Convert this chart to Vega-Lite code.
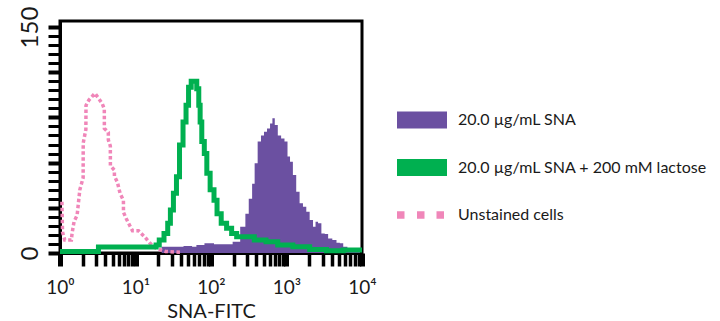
{
  "$schema": "https://vega.github.io/schema/vega-lite/v6.json",
  "width": 302,
  "height": 232,
  "autosize": {"type": "none"},
  "padding": {"left": 60, "top": 21, "right": 358, "bottom": 68},
  "background": "white",
  "config": {
    "view": {"stroke": "black", "strokeWidth": 3},
    "font": "Lato",
    "axis": {
      "grid": false,
      "domainColor": "black",
      "domainWidth": 3,
      "tickColor": "black",
      "labelColor": "#1a1a1a",
      "titleColor": "#1a1a1a",
      "labelFont": "Lato",
      "titleFont": "Lato",
      "labelOverlap": false,
      "labelFlush": false,
      "titleFontWeight": "normal"
    },
    "legend": {
      "orient": "none",
      "legendX": 337,
      "legendY": 74,
      "padding": 0,
      "symbolType": "M-1,-0.34H1V0.34H-1Z",
      "symbolSize": 2500,
      "symbolStrokeWidth": 0,
      "labelFont": "Lato",
      "labelFontSize": 16,
      "labelColor": "#1a1a1a",
      "labelOffset": 11,
      "rowPadding": 13.5,
      "labelLimit": 400
    }
  },
  "datasets": {
    "sna": [
      {"s": "20.0 µg/mL SNA", "x": 22.2, "y": 4.2},
      {"s": "20.0 µg/mL SNA", "x": 37.4, "y": 4.2},
      {"s": "20.0 µg/mL SNA", "x": 50, "y": 4.6},
      {"s": "20.0 µg/mL SNA", "x": 63.1, "y": 4.2},
      {"s": "20.0 µg/mL SNA", "x": 65.1, "y": 5.3},
      {"s": "20.0 µg/mL SNA", "x": 103, "y": 6.4},
      {"s": "20.0 µg/mL SNA", "x": 116.6, "y": 5.8},
      {"s": "20.0 µg/mL SNA", "x": 173.8, "y": 5.8},
      {"s": "20.0 µg/mL SNA", "x": 215.4, "y": 7.5},
      {"s": "20.0 µg/mL SNA", "x": 275.4, "y": 17.5},
      {"s": "20.0 µg/mL SNA", "x": 295.6, "y": 26},
      {"s": "20.0 µg/mL SNA", "x": 338.3, "y": 36},
      {"s": "20.0 µg/mL SNA", "x": 363, "y": 46},
      {"s": "20.0 µg/mL SNA", "x": 394.5, "y": 59.5},
      {"s": "20.0 µg/mL SNA", "x": 436.5, "y": 74},
      {"s": "20.0 µg/mL SNA", "x": 483, "y": 78},
      {"s": "20.0 µg/mL SNA", "x": 524.8, "y": 80.5},
      {"s": "20.0 µg/mL SNA", "x": 580.8, "y": 82.7},
      {"s": "20.0 µg/mL SNA", "x": 631, "y": 86},
      {"s": "20.0 µg/mL SNA", "x": 671, "y": 89.4},
      {"s": "20.0 µg/mL SNA", "x": 729, "y": 85},
      {"s": "20.0 µg/mL SNA", "x": 806.6, "y": 78},
      {"s": "20.0 µg/mL SNA", "x": 892.7, "y": 76},
      {"s": "20.0 µg/mL SNA", "x": 990.8, "y": 74},
      {"s": "20.0 µg/mL SNA", "x": 1073, "y": 64},
      {"s": "20.0 µg/mL SNA", "x": 1155, "y": 60.6},
      {"s": "20.0 µg/mL SNA", "x": 1278, "y": 51.8},
      {"s": "20.0 µg/mL SNA", "x": 1415, "y": 40.7},
      {"s": "20.0 µg/mL SNA", "x": 1570, "y": 33},
      {"s": "20.0 µg/mL SNA", "x": 1738, "y": 30.7},
      {"s": "20.0 µg/mL SNA", "x": 1923, "y": 27.4},
      {"s": "20.0 µg/mL SNA", "x": 2135, "y": 21.9},
      {"s": "20.0 µg/mL SNA", "x": 2362, "y": 17.5},
      {"s": "20.0 µg/mL SNA", "x": 2489, "y": 20.8},
      {"s": "20.0 µg/mL SNA", "x": 2754, "y": 19.7},
      {"s": "20.0 µg/mL SNA", "x": 3048, "y": 13},
      {"s": "20.0 µg/mL SNA", "x": 3383, "y": 12.6},
      {"s": "20.0 µg/mL SNA", "x": 3745, "y": 9.7},
      {"s": "20.0 µg/mL SNA", "x": 4365, "y": 8.6},
      {"s": "20.0 µg/mL SNA", "x": 4831, "y": 6.8},
      {"s": "20.0 µg/mL SNA", "x": 5362, "y": 6.4},
      {"s": "20.0 µg/mL SNA", "x": 5933, "y": 4.2},
      {"s": "20.0 µg/mL SNA", "x": 6918, "y": 2},
      {"s": "20.0 µg/mL SNA", "x": 9405, "y": 0.9}
    ],
    "unstained": [
      {"s": "Unstained cells", "x": 1.06, "y": 34},
      {"s": "Unstained cells", "x": 1.08, "y": 14},
      {"s": "Unstained cells", "x": 1.155, "y": 8.6},
      {"s": "Unstained cells", "x": 1.415, "y": 8.6},
      {"s": "Unstained cells", "x": 1.445, "y": 13},
      {"s": "Unstained cells", "x": 1.537, "y": 21},
      {"s": "Unstained cells", "x": 1.685, "y": 25},
      {"s": "Unstained cells", "x": 1.831, "y": 42},
      {"s": "Unstained cells", "x": 2.026, "y": 50},
      {"s": "Unstained cells", "x": 2.03, "y": 73},
      {"s": "Unstained cells", "x": 2.201, "y": 82},
      {"s": "Unstained cells", "x": 2.21, "y": 98},
      {"s": "Unstained cells", "x": 2.413, "y": 101.5},
      {"s": "Unstained cells", "x": 2.902, "y": 106},
      {"s": "Unstained cells", "x": 3.211, "y": 103},
      {"s": "Unstained cells", "x": 3.631, "y": 99},
      {"s": "Unstained cells", "x": 3.862, "y": 95.5},
      {"s": "Unstained cells", "x": 3.87, "y": 82.7},
      {"s": "Unstained cells", "x": 4.365, "y": 80},
      {"s": "Unstained cells", "x": 4.37, "y": 75},
      {"s": "Unstained cells", "x": 4.642, "y": 71},
      {"s": "Unstained cells", "x": 4.65, "y": 58},
      {"s": "Unstained cells", "x": 5.248, "y": 55},
      {"s": "Unstained cells", "x": 5.26, "y": 51},
      {"s": "Unstained cells", "x": 5.754, "y": 47},
      {"s": "Unstained cells", "x": 6.25, "y": 39.6},
      {"s": "Unstained cells", "x": 6.918, "y": 35},
      {"s": "Unstained cells", "x": 6.93, "y": 27},
      {"s": "Unstained cells", "x": 7.586, "y": 22.6},
      {"s": "Unstained cells", "x": 8.318, "y": 18.6},
      {"s": "Unstained cells", "x": 9.12, "y": 14.8},
      {"s": "Unstained cells", "x": 10.96, "y": 14.8},
      {"s": "Unstained cells", "x": 13.18, "y": 10.8},
      {"s": "Unstained cells", "x": 15.37, "y": 6.8},
      {"s": "Unstained cells", "x": 17.5, "y": 4},
      {"s": "Unstained cells", "x": 20, "y": 2.5},
      {"s": "Unstained cells", "x": 25, "y": 1},
      {"s": "Unstained cells", "x": 40, "y": 0.5}
    ],
    "lactose": [
      {"s": "20.0 µg/mL SNA + 200 mM lactose", "x": 1, "y": 1},
      {"s": "20.0 µg/mL SNA + 200 mM lactose", "x": 3.21, "y": 1},
      {"s": "20.0 µg/mL SNA + 200 mM lactose", "x": 3.25, "y": 4},
      {"s": "20.0 µg/mL SNA + 200 mM lactose", "x": 8.07, "y": 4},
      {"s": "20.0 µg/mL SNA + 200 mM lactose", "x": 18.5, "y": 4},
      {"s": "20.0 µg/mL SNA + 200 mM lactose", "x": 19, "y": 5.3},
      {"s": "20.0 µg/mL SNA + 200 mM lactose", "x": 22.4, "y": 8.6},
      {"s": "20.0 µg/mL SNA + 200 mM lactose", "x": 25.4, "y": 13},
      {"s": "20.0 µg/mL SNA + 200 mM lactose", "x": 28.1, "y": 19.7},
      {"s": "20.0 µg/mL SNA + 200 mM lactose", "x": 29.9, "y": 28.5},
      {"s": "20.0 µg/mL SNA + 200 mM lactose", "x": 33.8, "y": 39.6},
      {"s": "20.0 µg/mL SNA + 200 mM lactose", "x": 36, "y": 50.6},
      {"s": "20.0 µg/mL SNA + 200 mM lactose", "x": 40.7, "y": 71.7},
      {"s": "20.0 µg/mL SNA + 200 mM lactose", "x": 44.6, "y": 87},
      {"s": "20.0 µg/mL SNA + 200 mM lactose", "x": 48.9, "y": 98},
      {"s": "20.0 µg/mL SNA + 200 mM lactose", "x": 52, "y": 110},
      {"s": "20.0 µg/mL SNA + 200 mM lactose", "x": 57.5, "y": 114},
      {"s": "20.0 µg/mL SNA + 200 mM lactose", "x": 62.5, "y": 114},
      {"s": "20.0 µg/mL SNA + 200 mM lactose", "x": 67.1, "y": 109},
      {"s": "20.0 µg/mL SNA + 200 mM lactose", "x": 70.7, "y": 98},
      {"s": "20.0 µg/mL SNA + 200 mM lactose", "x": 72.9, "y": 87},
      {"s": "20.0 µg/mL SNA + 200 mM lactose", "x": 78.2, "y": 74},
      {"s": "20.0 µg/mL SNA + 200 mM lactose", "x": 85, "y": 66},
      {"s": "20.0 µg/mL SNA + 200 mM lactose", "x": 91.2, "y": 53},
      {"s": "20.0 µg/mL SNA + 200 mM lactose", "x": 104, "y": 42},
      {"s": "20.0 µg/mL SNA + 200 mM lactose", "x": 115.5, "y": 35},
      {"s": "20.0 µg/mL SNA + 200 mM lactose", "x": 125.1, "y": 26},
      {"s": "20.0 µg/mL SNA + 200 mM lactose", "x": 149, "y": 19.7},
      {"s": "20.0 µg/mL SNA + 200 mM lactose", "x": 173.8, "y": 16.4},
      {"s": "20.0 µg/mL SNA + 200 mM lactose", "x": 202.6, "y": 13},
      {"s": "20.0 µg/mL SNA + 200 mM lactose", "x": 236.3, "y": 10.8},
      {"s": "20.0 µg/mL SNA + 200 mM lactose", "x": 321, "y": 10.8},
      {"s": "20.0 µg/mL SNA + 200 mM lactose", "x": 436.5, "y": 8.6},
      {"s": "20.0 µg/mL SNA + 200 mM lactose", "x": 656.8, "y": 7.5},
      {"s": "20.0 µg/mL SNA + 200 mM lactose", "x": 892.7, "y": 5.3},
      {"s": "20.0 µg/mL SNA + 200 mM lactose", "x": 1650, "y": 4.2},
      {"s": "20.0 µg/mL SNA + 200 mM lactose", "x": 2489, "y": 2.4},
      {"s": "20.0 µg/mL SNA + 200 mM lactose", "x": 4599, "y": 1.5},
      {"s": "20.0 µg/mL SNA + 200 mM lactose", "x": 6918, "y": 2},
      {"s": "20.0 µg/mL SNA + 200 mM lactose", "x": 10000, "y": 2}
    ]
  },
  "encoding": {
    "x": {
      "field": "x",
      "type": "quantitative",
      "scale": {"type": "log", "domain": [1, 10000]},
      "axis": {
        "title": "SNA-FITC",
        "titleFontSize": 20,
        "titleBaseline": "alphabetic",
        "titleY": 64,
        "values": [1,2,3,4,5,6,7,8,9,10,20,30,40,50,60,70,80,90,100,200,300,400,500,600,700,800,900,1000,2000,3000,4000,5000,6000,7000,8000,9000,10000],
        "labelExpr": "datum.value == 1 ? '10⁰' : datum.value == 10 ? '10¹' : datum.value == 100 ? '10²' : datum.value == 1000 ? '10³' : datum.value == 10000 ? '10⁴' : ''",
        "labelFontSize": 19,
        "labelBaseline": "alphabetic",
        "labelPadding": 27,
        "tickSize": 13,
        "tickWidth": {"condition": {"test": "indexof([1,10,100,1000,10000], datum.value) >= 0", "value": 5}, "value": 3.5},
        "encode": {
          "ticks": {
            "update": {
              "y2": {"signal": "indexof([1,10,100,1000,10000], datum.value) >= 0 ? 14 : 7"}
            }
          }
        }
      }
    },
    "y": {
      "field": "y",
      "type": "quantitative",
      "scale": {"domain": [0, 154], "nice": false},
      "axis": {
        "title": null,
        "values": [0,6,12,18,24,30,36,42,48,54,60,66,72,78,84,90,96,102,108,114,120,126,132,138,144,150],
        "labelExpr": "datum.value == 0 || datum.value == 150 ? datum.label : ''",
        "labelAngle": 270,
        "labelAlign": "center",
        "labelBaseline": "alphabetic",
        "labelFontSize": 24,
        "labelPadding": 11,
        "tickSize": 12,
        "tickWidth": {"condition": {"test": "datum.value % 30 == 0", "value": 4}, "value": 3},
        "encode": {
          "ticks": {
            "update": {
              "x2": {"signal": "datum.value % 30 == 0 ? -12 : -7"}
            }
          }
        }
      }
    },
    "color": {
      "field": "s",
      "type": "nominal",
      "scale": {
        "domain": ["20.0 µg/mL SNA", "20.0 µg/mL SNA + 200 mM lactose", "Unstained cells"],
        "range": ["#6b50a1", "#00b050", "#f086b9"]
      },
      "legend": {
        "title": null,
        "encode": {
          "symbols": {
            "update": {
              "shape": {"signal": "datum.value === 'Unstained cells' ? 'M-1,-0.15H-0.7V0.15H-1Z M-0.2,-0.15H0.1V0.15H-0.2Z M0.58,-0.15H0.88V0.15H0.58Z' : 'M-1,-0.34H1V0.34H-1Z'"},
              "fill": {"signal": "datum.value === 'Unstained cells' ? '#f086b9' : datum.value === '20.0 µg/mL SNA' ? '#6b50a1' : '#00b050'"},
              "fillOpacity": {"value": 1},
              "opacity": {"value": 1},
              "stroke": {"value": "transparent"},
              "strokeWidth": {"value": 0}
            }
          }
        }
      }
    }
  },
  "layer": [
    {
      "data": {"name": "sna"},
      "mark": {"type": "area", "interpolate": "step", "opacity": 1}
    },
    {
      "data": {"name": "unstained"},
      "mark": {"type": "line", "interpolate": "linear", "strokeWidth": 3.5, "strokeDash": [3.5, 2.5], "strokeCap": "butt"}
    },
    {
      "data": {"name": "lactose"},
      "mark": {"type": "line", "interpolate": "step", "strokeWidth": 5, "strokeCap": "butt", "strokeJoin": "miter"}
    }
  ]
}
